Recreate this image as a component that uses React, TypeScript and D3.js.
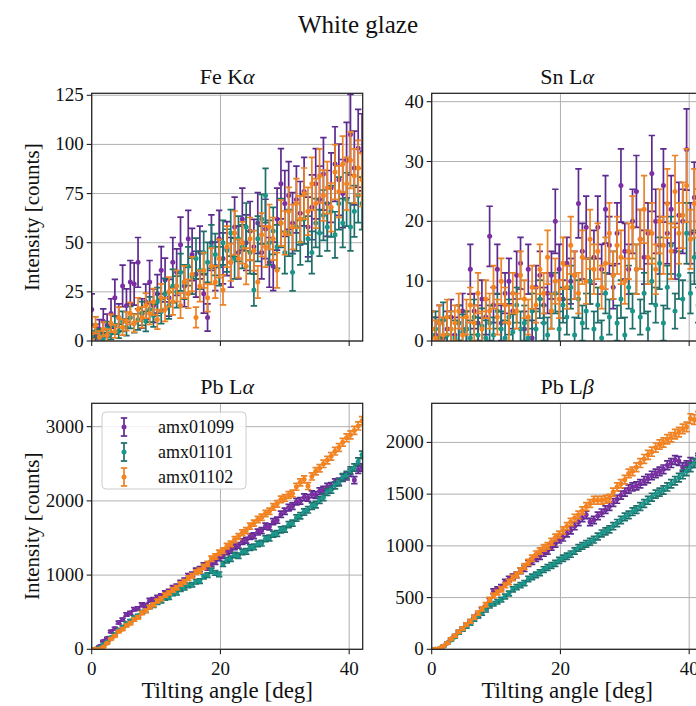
import React from 'react';
import * as d3 from 'd3';

// Tilting angle samples [deg]
const angles = [0,0.6,1.2,1.8,2.4,3,3.6,4.2,4.8,5.4,6,6.6,7.2,7.8,8.4,9,9.6,10.2,10.8,11.4,12,12.6,13.2,13.8,14.4,15,15.6,16.2,16.8,17.4,18,18.6,19.2,19.8,20.4,21,21.6,22.2,22.8,23.4,24,24.6,25.2,25.8,26.4,27,27.6,28.2,28.8,29.4,30,30.6,31.2,31.8,32.4,33,33.6,34.2,34.8,35.4,36,36.6,37.2,37.8,38.4,39,39.6,40.2,40.8,41.4,42];

const sampleNames = ['amx01099', 'amx01101', 'amx01102'];
const sampleColors = ['#7b2fa3', '#1a968a', '#f5831f'];
const errorColors = ['#5d2a8e', '#1e6e69', '#ec8226'];

// Fe K-alpha
const feKa_1099 = [16,3,6,10,8,14,22,12,28,18,30,29,40,14,20,30,18,24,36,31,22,40,35,49,28,52,44,34,45,24,12,50,38,52,42,47,40,58,45,62,50,56,48,60,45,57,40,38,62,80,70,74,60,72,65,76,58,68,80,72,85,70,78,90,82,75,92,105,88,98,96];
const feKa_1101 = [2,5,3,1,6,4,8,5,10,7,12,9,11,14,10,16,13,20,15,24,18,28,25,35,30,38,33,42,36,45,40,48,44,38,50,46,55,42,52,48,58,45,26,52,62,74,50,56,48,60,45,55,35,58,50,62,52,45,60,55,64,58,66,54,70,60,72,58,66,74,70];
const feKa_1102 = [4,8,2,6,3,9,5,12,7,10,14,9,16,12,18,14,20,11,22,16,25,20,28,18,30,24,34,12,28,36,22,38,30,42,26,48,40,55,42,50,38,52,46,30,54,48,58,52,36,60,55,66,58,70,62,75,66,80,70,84,74,78,68,86,76,90,80,92,84,88,82];

// Sn L-alpha
const snLa_1099 = [2,1,3,0.5,2,4,1,3,5,2,12,5,3,7,4,17.5,6,12,3,8,10,5,11,13,2,12,0.5,9,11,6,8,11,20,12,7,13,10,11,23,15,19,10,14,19,12,22,16,9,18,26,15,12,20,25,17,14,18,28,20,16,26,18,22,15,21,20,32,18,24,20,28];
const snLa_1101 = [1,2,0.5,3.5,1,2,0.5,3,1.5,2,0.5,4,1,2.5,0.5,3,1,5,2,0.5,4,1.5,6,2,3,0.5,5,2,7,3,1,5,8,2,6,4,9,1,7,3,5,10,2,6,0.5,8,4,11,3,7,1,9,5,12,4,8,2,10,6,13,3,9,16,5,11,7,18,8,14,6,12];
const snLa_1102 = [2,0.5,3,1,4,2,3,5,1,4,6,3,8,2,7,5,9,4,10,6,3,8,5,11,7,4,9,6,12,8,14,5,10,7,13,9,16,11,8,14,10,17,12,15,9,13,18,11,16,14,10,15,19,12,17,22,14,18,12,20,16,23,15,25,18,21,26,17,23,20,24];

// Pb L-alpha
const pbLa_1099 = [0,5,40,110,150,240,280,360,400,470,490,540,550,600,590,660,670,700,720,760,780,830,850,900,930,990,1010,1060,1080,1130,1100,1150,1180,1230,1260,1310,1330,1380,1400,1450,1470,1520,1530,1580,1600,1660,1650,1720,1740,1820,1860,1910,1930,1990,2000,2050,2040,2090,2080,2130,2150,2190,2200,2250,2260,2310,2330,2380,2280,2420,2450];
const pbLa_1101 = [0,0,20,60,100,160,200,260,300,350,380,430,450,500,520,570,590,630,650,690,700,750,760,810,830,860,870,910,920,980,1000,1060,1030,1010,1150,1200,1220,1270,1260,1310,1320,1370,1380,1420,1430,1490,1500,1550,1560,1610,1620,1680,1700,1770,1800,1850,1880,1930,1950,2010,2050,2120,2150,2210,2250,2320,2350,2410,2450,2530,2620];
const pbLa_1102 = [0,0,0,30,80,140,180,240,270,320,350,400,430,490,520,570,600,650,680,730,760,800,830,880,910,960,990,1040,1060,1110,1150,1220,1250,1300,1330,1390,1420,1480,1520,1570,1600,1660,1700,1750,1780,1830,1860,1920,1960,2020,2040,2080,2100,2190,2250,2290,2200,2330,2400,2440,2500,2550,2600,2670,2720,2790,2850,2890,2950,3010,3080];

// Pb L-beta
const pbLb_1099 = [0,0,0,30,60,100,130,170,200,240,270,310,330,380,400,470,560,580,600,650,680,700,720,760,780,830,850,880,900,930,950,990,1020,1060,1080,1120,1150,1190,1230,1270,1300,1230,1250,1290,1320,1350,1380,1420,1450,1490,1520,1550,1570,1580,1600,1630,1650,1680,1700,1720,1740,1780,1800,1830,1820,1760,1780,1810,1800,1830,1850];
const pbLb_1101 = [0,0,10,30,60,90,120,160,190,220,250,290,320,350,380,420,440,460,480,510,540,580,600,620,640,680,700,720,740,770,790,810,830,860,880,900,920,950,980,1000,1020,1040,1060,1090,1120,1140,1160,1190,1220,1250,1280,1300,1330,1350,1380,1410,1440,1470,1500,1520,1540,1570,1600,1630,1660,1690,1720,1760,1800,1850,1900];
const pbLb_1102 = [0,0,10,30,60,100,130,170,200,240,270,310,350,390,430,480,520,550,580,620,650,690,720,760,800,840,880,920,950,980,1000,1040,1080,1110,1150,1190,1230,1270,1300,1340,1380,1410,1440,1440,1440,1450,1460,1520,1570,1600,1640,1700,1720,1760,1800,1840,1880,1910,1950,1980,2000,2030,2050,2080,2100,2130,2150,2230,2220,2250,2220];

// Axis tick labels
const angleTicks = [0, 20, 40];
const feTicks = [0, 25, 50, 75, 100, 125];
const snTicks = [0, 10, 20, 30, 40];
const pbLaTicks = [0, 1000, 2000, 3000];
const pbLbTicks = [0, 500, 1000, 1500, 2000];

const panelTitles = [['Fe K', 'α'], ['Sn L', 'α'], ['Pb L', 'α'], ['Pb L', 'β']];
const panelSeries = [
  [feKa_1099, feKa_1101, feKa_1102],
  [snLa_1099, snLa_1101, snLa_1102],
  [pbLa_1099, pbLa_1101, pbLa_1102],
  [pbLb_1099, pbLb_1101, pbLb_1102],
];
const panelTicks = [feTicks, snTicks, pbLaTicks, pbLbTicks];
const panelYMax = [126, 41.4, 3315, 2378];
// counting-statistics error: factor * sqrt(max(value, floor))
const panelErrFactor = [[2.0, 1.6, 1.5], [1.2, 1.2, 1.2], [1, 1, 1], [1, 1, 1]];
const panelErrFloor = [4, 6, 4, 4];

const FONT = 'Liberation Serif';
const W = 696, H = 706;
const COLS = [[91.7, 362.7], [431.7, 702.7]];
const ROWS = [[93.3, 341], [403.3, 649.3]];
const XMAX = 42.1;

function T(props: any) {
  const { size, children, ...rest } = props;
  return (
    <text fontFamily={FONT} fontSize={size} fill="#111" style={{ fontFamily: `"${FONT}"`, fontSize: `${size}px` }} {...rest}>
      {children}
    </text>
  );
}

function Panel({ idx }: { idx: number }) {
  const col = idx % 2, row = Math.floor(idx / 2);
  const [x0, x1] = COLS[col];
  const [y0, y1] = ROWS[row];
  const x = d3.scaleLinear().domain([0, XMAX]).range([x0, x1]);
  const y = d3.scaleLinear().domain([0, panelYMax[idx]]).range([y1, y0]);
  const clipId = `clip${idx}`;
  const ticks = panelTicks[idx];
  const series = panelSeries[idx];
  const cap = 3.2;
  const sw = 1.7;
  return (
    <g>
      <defs>
        <clipPath id={clipId}>
          <rect x={x0} y={y0} width={x1 - x0} height={y1 - y0} />
        </clipPath>
      </defs>
      <rect x={x0} y={y0} width={x1 - x0} height={y1 - y0} fill="#fff" />
      {angleTicks.map(t => (
        <line key={'gx' + t} x1={x(t)} x2={x(t)} y1={y0} y2={y1} stroke="#b0b0b0" strokeWidth={1} />
      ))}
      {ticks.map(t => (
        <line key={'gy' + t} x1={x0} x2={x1} y1={y(t)} y2={y(t)} stroke="#b0b0b0" strokeWidth={1} />
      ))}
      <g clipPath={`url(#${clipId})`}>
        {series.map((vals, s) => {
          const f = panelErrFactor[idx][s];
          const fl = panelErrFloor[idx];
          return (
            <g key={s}>
              {vals.map((v, i) => {
                const e = f * Math.sqrt(Math.max(v, fl));
                const cx = x(angles[i]);
                const yt = y(v + e), yb = y(v - e);
                return (
                  <g key={i}>
                    <line x1={cx} x2={cx} y1={yt} y2={yb} stroke={errorColors[s]} strokeWidth={sw} />
                    <line x1={cx - cap} x2={cx + cap} y1={yt} y2={yt} stroke={errorColors[s]} strokeWidth={sw} />
                    <line x1={cx - cap} x2={cx + cap} y1={yb} y2={yb} stroke={errorColors[s]} strokeWidth={sw} />
                    <circle cx={cx} cy={y(v)} r={2.5} fill={sampleColors[s]} />
                  </g>
                );
              })}
            </g>
          );
        })}
      </g>
      <rect x={x0} y={y0} width={x1 - x0} height={y1 - y0} fill="none" stroke="#222" strokeWidth={1.25} />
      {angleTicks.map(t => (
        <g key={'tx' + t}>
          <line x1={x(t)} x2={x(t)} y1={y1} y2={y1 + 5} stroke="#222" strokeWidth={1.1} />
          {row === 1 && (
            <T x={x(t)} y={y1 + 26} textAnchor="middle" size={19}>{String(t)}</T>
          )}
        </g>
      ))}
      {ticks.map(t => (
        <g key={'ty' + t}>
          <line x1={x0 - 5} x2={x0} y1={y(t)} y2={y(t)} stroke="#222" strokeWidth={1.1} />
          <T x={x0 - 8} y={y(t) + 6} textAnchor="end" size={19}>{String(t)}</T>
        </g>
      ))}
      <T x={(x0 + x1) / 2} y={y0 - 9.5} textAnchor="middle" size={22}>
        {panelTitles[idx][0]}<tspan fontStyle="italic">{panelTitles[idx][1]}</tspan>
      </T>
      {col === 0 && (
        <T transform={`translate(39,${(y0 + y1) / 2}) rotate(-90)`} textAnchor="middle" size={21}>
          Intensity [counts]
        </T>
      )}
      {row === 1 && (
        <T x={(x0 + x1) / 2} y={698} textAnchor="middle" size={23}>
          Tilting angle [deg]
        </T>
      )}
    </g>
  );
}

function Legend() {
  const bx = 102, by = 412, bw = 144, bh = 77;
  const rows = [427, 452, 477];
  return (
    <g>
      <rect x={bx} y={by} width={bw} height={bh} rx={4} fill="#fff" fillOpacity={0.85} stroke="#cccccc" strokeWidth={1} />
      {sampleNames.map((n, i) => (
        <g key={n}>
          <line x1={124} x2={124} y1={rows[i] - 9} y2={rows[i] + 9} stroke={errorColors[i]} strokeWidth={1.7} />
          <line x1={120.8} x2={127.2} y1={rows[i] - 9} y2={rows[i] - 9} stroke={errorColors[i]} strokeWidth={1.7} />
          <line x1={120.8} x2={127.2} y1={rows[i] + 9} y2={rows[i] + 9} stroke={errorColors[i]} strokeWidth={1.7} />
          <circle cx={124} cy={rows[i]} r={2.5} fill={sampleColors[i]} />
          <T x={158} y={rows[i] + 6} size={18}>{n}</T>
        </g>
      ))}
    </g>
  );
}

export default function App() {
  return (
    <svg width={W} height={H} style={{ position: 'absolute', left: 0, top: 0, background: '#fff' }}>
      <style>{`text { font-family: "Liberation Serif", "Times New Roman", serif; }`}</style>
      <rect x={0} y={0} width={W} height={H} fill="#fff" />
      <T x={358} y={33} textAnchor="middle" size={25}>White glaze</T>
      {[0, 1, 2, 3].map(i => <Panel key={i} idx={i} />)}
      <Legend />
    </svg>
  );
}
